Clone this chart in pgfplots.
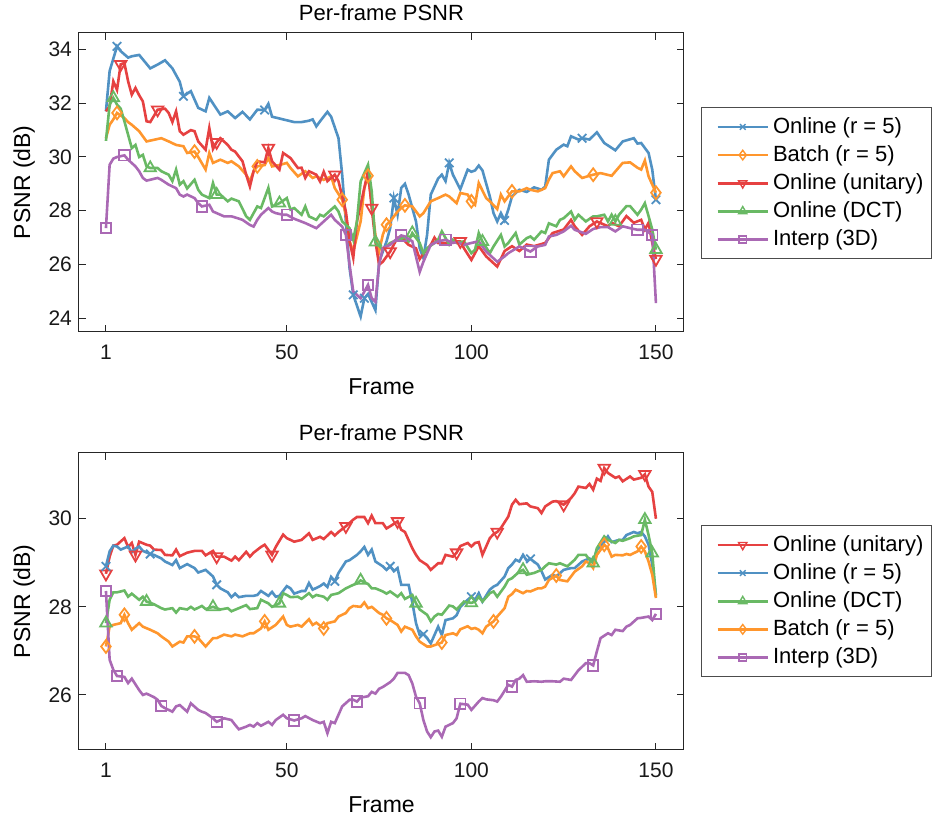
\documentclass[border=0pt]{standalone}
\usepackage{fontspec}
\setmainfont{Liberation Sans}
\usepackage{pgfplots}
\pgfplotsset{compat=1.18}
\definecolor{cblue}{RGB}{80,145,195}
\definecolor{corange}{RGB}{255,150,45}
\definecolor{cred}{RGB}{230,65,65}
\definecolor{cgreen}{RGB}{105,185,100}
\definecolor{cpurple}{RGB}{170,105,180}

\pgfplotsset{
  psnr/.style={
    scale only axis, width=302.5pt, anchor=south west,
    xmin=-6.3, xmax=157.6, xtick={1,50,100,150},
    /pgf/number format/assume math mode=true,
    axis line style={black!85, line width=0.5pt},
    tick style={black!85, line width=0.5pt},
    major tick length=3.5pt, tick align=inside,
    tick label style={font=\fontsize{10.5}{12}\selectfont, text=black!90},
    xticklabel style={yshift=-3pt},
    label style={font=\fontsize{11.5}{13}\selectfont},
    xlabel style={yshift=-2.5pt},
    title style={font=\fontsize{11}{13}\selectfont, yshift=-3.5pt},
    title={Per-frame PSNR}, xlabel={Frame}, ylabel={PSNR (dB)},
    legend cell align=left,
    legend style={anchor=north west, draw=black!70, line width=0.5pt,
      font=\fontsize{11}{13}\selectfont, inner xsep=2pt, inner ysep=3pt,
      row sep=0.6pt},
    legend image code/.code={
      \path (0pt,0pt);
      \draw[#1, mark=none] (5.5pt,0pt) -- (30.5pt,0pt);
      \draw[#1, line width=0.7pt, only marks] plot coordinates {(18pt,0pt)};},
  },
  ln/.style={line width=1.3pt, mark=none, forget plot},
  mk/.style={only marks, line width=0.9pt, forget plot},
  lg/.style={line width=1.3pt},
}

\begin{document}
\begin{tikzpicture}
\path[use as bounding box] (0,0) rectangle (467pt,410pt);

% ---------------- top ----------------
\begin{axis}[psnr, at={(39.5pt,244.2pt)}, height=149.35pt,
  ymin=23.5, ymax=34.62, ytick={24,26,28,30,32,34},
  legend style={at={(1.028,0.752)}}]
% Online (r = 5)
\addplot[cblue, ln] coordinates {(1,31.7)(2,33.2)(4,34.12)(5,33.94)(7,33.7)(8,33.75)(10,33.8)(13,33.3)(15,33.44)(17,33.6)(19,33.3)(21,32.8)(22,32.26)(24,32.45)(26,31.83)(28,31.7)(29,32.2)(32,31.58)(34,31.7)(36,31.45)(38,31.68)(40,31.4)(42,31.76)(44,31.75)(45,31.98)(46,31.5)(49,31.4)(52,31.3)(54,31.3)(56,31.35)(57,31.4)(58,31.14)(59,31.33)(61,31.68)(62,31.5)(64,30.7)(65,29.34)(66,27.6)(67,25.86)(68,24.87)(70,24.06)(71,24.74)(72,24.9)(74,24.3)(75,26.1)(77,26.85)(78,27.35)(79,28.47)(80,27.85)(81,28.85)(82,29.0)(83,28.6)(85,27.6)(86,26.6)(87,26.24)(88,27.1)(89,28.6)(91,29.2)(92,29.34)(93,29.1)(94,29.78)(95,29.34)(97,28.8)(99,29.53)(100,29.45)(101,29.5)(102,29.68)(103,29.5)(105,28.53)(106,27.91)(107,27.6)(108,27.91)(109,27.64)(110,28.04)(111,28.53)(113,28.78)(115,28.7)(117,28.87)(119,28.78)(120,28.9)(121,29.9)(123,30.27)(125,30.46)(126,30.4)(127,30.77)(129,30.65)(130,30.7)(132,30.65)(134,30.92)(136,30.52)(139,30.25)(141,30.58)(144,30.7)(145,30.5)(146,30.52)(148,30.15)(149,29.53)(150,28.41)};
\addplot[cblue, mk, mark=x, mark size=3pt] coordinates {(4,34.12)(22,32.26)(44,31.75)(68,24.87)(71,24.74)(79,28.47)(94,29.78)(109,27.64)(130,30.7)(150,28.41)};
% Batch (r = 5)
\addplot[corange, ln] coordinates {(1,30.7)(2,31.2)(3,31.4)(4,31.64)(6,31.45)(7,31.3)(8,31.2)(10,30.96)(12,30.58)(14,30.64)(16,30.7)(18,30.58)(20,30.45)(22,30.4)(23,30.15)(25,30.2)(26,30.0)(28,29.53)(29,30.15)(30,29.78)(32,29.9)(34,29.78)(35,29.84)(37,29.65)(39,29.34)(40,29.09)(41,29.47)(42,29.65)(44,29.7)(45,29.96)(46,29.65)(48,29.7)(50,29.78)(51,29.59)(53,29.28)(55,29.47)(57,29.22)(58,29.28)(60,29.15)(62,29.28)(63,28.84)(65,28.41)(66,27.85)(67,26.86)(68,26.48)(70,27.6)(71,28.84)(72,29.3)(73,28.3)(74,27.1)(75,26.48)(76,27.1)(77,27.48)(78,27.6)(80,27.97)(81,28.1)(82,28.2)(84,28.16)(86,27.79)(87,27.91)(89,28.35)(91,28.47)(93,28.6)(94,28.53)(96,28.28)(97,28.66)(99,28.6)(100,28.35)(101,28.22)(102,29.03)(104,28.47)(105,28.35)(107,28.06)(108,28.6)(109,28.35)(111,28.72)(113,28.72)(115,28.84)(116,28.78)(118,28.72)(120,28.84)(121,29.16)(122,29.4)(124,29.47)(125,29.28)(127,29.65)(128,29.47)(130,29.22)(131,29.26)(133,29.34)(135,29.4)(138,29.3)(141,29.78)(143,29.8)(145,29.6)(146,29.53)(147,29.87)(148,29.28)(150,28.67)};
\addplot[corange, mk, mark=diamond, mark size=3.2pt] coordinates {(4,31.64)(25,30.2)(42,29.65)(65,28.41)(72,29.3)(77,27.48)(82,28.2)(100,28.35)(111,28.72)(133,29.34)(150,28.67)};
% Online (unitary)
\addplot[cred, ln] coordinates {(1,31.7)(2,31.89)(3,32.82)(4,32.5)(5,33.45)(6,33.5)(7,32.82)(8,32.32)(9,32.57)(10,32.3)(11,32.07)(12,31.33)(13,31.3)(15,31.76)(17,31.8)(18,31.64)(19,31.3)(20,31.7)(21,30.96)(22,30.83)(24,31.0)(25,30.96)(26,30.58)(28,30.27)(29,31.08)(30,30.3)(31,30.55)(32,30.7)(34,30.45)(35,30.27)(36,30.2)(38,29.84)(39,29.34)(40,28.9)(41,29.47)(42,29.84)(44,29.8)(45,30.33)(46,29.84)(48,29.53)(49,30.15)(51,29.96)(53,29.59)(54,29.6)(55,29.22)(56,29.47)(58,29.34)(59,29.09)(60,29.45)(61,29.1)(63,29.34)(64,29.1)(66,27.97)(67,26.86)(68,26.24)(69,27.6)(71,28.85)(72,29.47)(73,28.1)(74,26.86)(75,25.99)(76,26.1)(78,26.48)(80,27.0)(81,27.0)(83,26.73)(85,26.6)(86,26.2)(87,26.4)(89,26.73)(90,27.0)(91,26.8)(94,26.8)(96,26.86)(97,26.86)(98,26.6)(100,26.17)(102,26.68)(104,26.3)(107,25.92)(109,26.5)(111,26.68)(113,26.5)(115,26.74)(117,26.68)(120,26.8)(122,27.17)(125,27.3)(127,27.66)(128,27.42)(130,27.1)(132,27.42)(134,27.6)(137,27.42)(138,27.55)(140,27.42)(142,27.8)(144,27.55)(146,27.66)(147,27.3)(148,27.55)(149,26.8)(150,26.2)};
\addplot[cred, mk, mark=triangle, mark size=3.3pt, mark options={rotate=180}] coordinates {(5,33.45)(15,31.76)(31,30.55)(45,30.33)(63,29.34)(73,28.1)(78,26.48)(97,26.86)(134,27.6)(150,26.2)};
% Online (DCT)
\addplot[cgreen, ln] coordinates {(1,30.6)(2,31.95)(3,32.2)(4,31.95)(5,31.8)(6,31.33)(7,30.83)(8,30.33)(9,30.45)(10,30.0)(11,30.08)(12,29.65)(13,29.59)(15,29.59)(16,29.47)(18,29.34)(19,29.1)(20,29.53)(21,28.97)(22,29.1)(23,28.83)(25,29.15)(26,28.78)(27,28.6)(29,28.47)(30,29.03)(31,28.6)(32,28.6)(34,28.35)(35,28.45)(37,28.35)(39,27.79)(40,27.66)(42,28.16)(43,28.1)(45,28.85)(46,28.16)(48,28.28)(50,28.47)(51,28.04)(52,28.1)(54,27.85)(55,28.16)(56,27.79)(58,27.66)(59,27.85)(60,27.79)(62,28.04)(63,28.16)(64,27.97)(65,27.6)(67,27.35)(68,26.92)(69,27.6)(70,29.09)(72,29.71)(73,28.72)(74,26.83)(76,26.55)(77,26.68)(78,26.8)(80,26.92)(82,27.0)(83,26.86)(84,27.17)(86,26.8)(87,26.42)(88,26.6)(90,26.8)(91,26.92)(92,27.23)(94,26.74)(95,26.92)(96,26.8)(98,26.86)(100,26.42)(101,26.55)(102,27.17)(103,26.85)(105,26.42)(106,26.67)(108,27.1)(109,26.67)(110,26.8)(112,27.17)(113,26.74)(115,26.98)(116,27.04)(117,26.92)(119,27.23)(120,27.17)(121,27.53)(123,27.42)(124,27.66)(125,27.72)(127,27.97)(128,27.66)(129,27.85)(131,27.6)(133,27.79)(134,27.79)(136,27.85)(137,27.6)(138,27.85)(139,27.6)(140,27.85)(142,28.17)(143,28.17)(145,27.85)(146,28.04)(147,28.28)(148,27.8)(149,27.3)(150,26.55)};
\addplot[cgreen, mk, mark=triangle, mark size=3.3pt] coordinates {(3,32.2)(13,29.59)(31,28.6)(48,28.28)(74,26.83)(84,27.17)(103,26.85)(139,27.6)(150,26.55)};
% Interp (3D)
\addplot[cpurple, ln] coordinates {(1,27.35)(2,29.71)(3,29.94)(4,30.0)(6,30.06)(7,29.9)(9,29.65)(10,29.47)(11,29.22)(12,29.12)(15,29.22)(16,29.15)(18,28.97)(20,28.84)(21,28.6)(22,28.53)(23,28.6)(25,28.47)(26,28.28)(27,28.16)(29,28.22)(30,27.97)(33,27.79)(35,27.79)(36,27.75)(38,27.66)(40,27.47)(41,27.41)(42,27.66)(43,27.85)(45,28.1)(46,27.97)(47,27.91)(49,27.85)(50,27.85)(52,27.7)(55,27.54)(58,27.35)(60,27.6)(62,27.85)(63,27.66)(65,27.41)(66,27.1)(67,25.99)(68,24.99)(70,24.74)(71,24.99)(72,25.24)(73,24.74)(74,24.61)(75,25.99)(76,26.61)(78,26.73)(79,26.86)(81,27.08)(82,27.04)(84,26.86)(86,25.72)(87,26.1)(89,26.73)(91,26.86)(93,26.92)(95,26.8)(96,26.83)(98,26.73)(100,26.8)(102,26.86)(104,26.48)(107,26.1)(109,26.3)(110,26.42)(113,26.67)(116,26.48)(118,26.67)(120,26.73)(121,27.04)(123,27.1)(125,27.23)(127,27.44)(128,27.29)(131,27.14)(133,27.32)(135,27.39)(137,27.39)(139,27.23)(141,27.42)(143,27.35)(145,27.29)(147,27.29)(149,27.1)(150,24.56)};
\addplot[cpurple, mk, mark=square, mark size=2.6pt] coordinates {(1,27.35)(6,30.06)(27,28.16)(50,27.85)(66,27.1)(72,25.24)(81,27.08)(93,26.92)(116,26.48)(145,27.29)(149,27.1)};

\addlegendimage{cblue, lg, mark=x, mark size=2pt}
\addlegendentry{Online (r = 5)}
\addlegendimage{corange, lg, mark=diamond, mark size=2.4pt}
\addlegendentry{Batch (r = 5)}
\addlegendimage{cred, lg, mark=triangle, mark size=2.4pt, mark options={rotate=180}}
\addlegendentry{Online (unitary)}
\addlegendimage{cgreen, lg, mark=triangle, mark size=2.4pt}
\addlegendentry{Online (DCT)}
\addlegendimage{cpurple, lg, mark=square, mark size=1.8pt}
\addlegendentry{Interp (3D)}
\end{axis}

% ---------------- bottom ----------------
\begin{axis}[psnr, at={(39.5pt,35pt)}, height=148.65pt,
  ymin=24.75, ymax=31.5, ytick={26,28,30},
  legend style={at={(1.028,0.757)}}]
% Online (unitary)
\addplot[cred, ln] coordinates {(1,28.75)(2,29.14)(3,29.39)(4,29.41)(6,29.56)(7,29.36)(8,29.45)(9,29.18)(10,29.48)(12,29.41)(13,29.39)(14,29.3)(16,29.29)(17,29.18)(19,29.17)(20,29.3)(21,29.15)(23,29.23)(25,29.27)(27,29.27)(28,29.17)(30,29.27)(31,29.14)(33,29.14)(35,29.05)(36,29.14)(37,29.06)(39,29.25)(40,29.14)(41,29.23)(43,29.36)(44,29.41)(46,29.18)(47,29.36)(49,29.64)(50,29.56)(52,29.48)(54,29.52)(56,29.67)(57,29.52)(59,29.59)(60,29.54)(62,29.7)(63,29.62)(64,29.7)(66,29.83)(68,29.98)(69,30.04)(71,30.04)(72,29.9)(73,30.07)(74,29.9)(76,29.9)(77,29.78)(78,29.83)(80,29.94)(81,29.75)(82,29.7)(84,29.33)(85,29.18)(86,29.06)(88,28.95)(89,28.84)(91,28.99)(92,28.99)(93,29.18)(95,29.14)(96,29.23)(97,29.38)(99,29.45)(100,29.37)(101,29.45)(102,29.47)(103,29.18)(105,29.56)(106,29.65)(107,29.7)(108,29.79)(110,30.05)(111,30.32)(112,30.43)(113,30.33)(115,30.35)(116,30.28)(118,30.24)(119,30.13)(120,30.28)(122,30.39)(123,30.4)(125,30.32)(127,30.47)(128,30.58)(129,30.73)(131,30.7)(132,30.79)(133,30.66)(134,30.91)(135,30.86)(136,31.15)(137,31.04)(139,30.93)(140,30.96)(141,30.85)(143,30.96)(144,30.89)(146,30.93)(147,31.01)(148,30.73)(149,30.61)(150,30.0)};
\addplot[cred, mk, mark=triangle, mark size=3.3pt, mark options={rotate=180}] coordinates {(1,28.75)(9,29.18)(31,29.14)(46,29.18)(66,29.83)(80,29.94)(96,29.23)(107,29.7)(125,30.32)(136,31.15)(147,31.01)};
% Online (r = 5)
\addplot[cblue, ln] coordinates {(1,28.92)(2,29.26)(3,29.39)(4,29.37)(5,29.3)(7,29.37)(8,29.24)(9,29.32)(10,29.37)(11,29.27)(13,29.2)(14,29.18)(16,29.1)(17,29.03)(19,28.95)(20,29.06)(21,28.88)(23,28.97)(25,28.88)(26,28.78)(28,28.84)(30,28.69)(31,28.5)(32,28.42)(34,28.33)(35,28.22)(36,28.3)(37,28.22)(39,28.25)(41,28.25)(42,28.27)(43,28.36)(45,28.25)(46,28.34)(47,28.23)(48,28.25)(50,28.47)(51,28.42)(52,28.3)(54,28.36)(55,28.36)(56,28.54)(57,28.39)(59,28.47)(60,28.53)(61,28.45)(62,28.68)(63,28.58)(64,28.77)(66,29.03)(67,29.06)(69,29.18)(70,29.26)(71,29.36)(72,29.18)(73,29.3)(74,29.03)(76,28.92)(77,28.84)(78,28.92)(79,28.81)(80,28.88)(81,28.5)(83,28.5)(84,28.1)(85,27.63)(86,27.36)(87,27.38)(88,27.29)(89,27.17)(90,27.36)(91,27.55)(92,27.36)(93,27.7)(95,27.74)(96,27.81)(97,28.0)(99,28.16)(100,28.23)(101,28.16)(102,28.31)(103,28.12)(105,28.39)(106,28.46)(107,28.5)(109,28.69)(110,28.88)(111,28.96)(112,29.07)(113,29.03)(114,29.18)(115,29.05)(116,29.09)(118,28.96)(119,28.81)(120,28.62)(122,28.73)(123,28.69)(125,28.84)(127,28.88)(128,28.88)(130,29.03)(132,29.1)(133,29.03)(134,29.3)(136,29.47)(137,29.6)(138,29.47)(140,29.52)(141,29.52)(142,29.63)(144,29.7)(145,29.67)(146,29.7)(147,29.6)(148,29.41)(149,28.96)(150,28.27)};
\addplot[cblue, mk, mark=x, mark size=3pt] coordinates {(1,28.92)(13,29.2)(31,28.5)(63,28.58)(78,28.92)(87,27.38)(100,28.23)(116,29.09)};
% Online (DCT)
\addplot[cgreen, ln] coordinates {(1,27.63)(2,28.16)(3,28.33)(4,28.33)(6,28.37)(7,28.23)(8,28.3)(10,28.16)(11,28.23)(12,28.12)(14,28.06)(16,27.97)(17,27.94)(19,27.97)(20,27.87)(21,27.97)(23,27.94)(24,28.0)(25,27.94)(27,28.02)(28,27.95)(30,28.0)(32,27.94)(34,27.97)(35,27.9)(37,27.97)(39,28.04)(40,27.95)(42,27.97)(43,28.16)(45,28.08)(46,28.0)(48,28.08)(49,28.31)(50,28.27)(51,28.22)(53,28.23)(54,28.18)(56,28.31)(57,28.22)(58,28.27)(60,28.23)(61,28.16)(62,28.27)(64,28.31)(66,28.42)(68,28.5)(69,28.53)(70,28.6)(72,28.52)(73,28.42)(74,28.42)(76,28.35)(77,28.3)(78,28.35)(80,28.23)(81,28.31)(82,28.18)(84,28.27)(85,28.08)(86,27.94)(88,27.82)(89,27.67)(90,27.78)(91,27.84)(92,27.82)(94,28.03)(95,28.01)(96,27.94)(98,28.12)(100,28.09)(101,28.12)(102,28.23)(103,28.12)(105,28.31)(106,28.35)(107,28.23)(109,28.46)(110,28.61)(111,28.65)(113,28.8)(114,28.84)(115,28.73)(117,28.77)(119,28.84)(120,28.92)(121,28.99)(123,28.96)(124,28.99)(126,28.92)(128,29.07)(129,29.18)(131,29.18)(132,29.07)(133,28.99)(134,29.33)(136,29.6)(137,29.52)(139,29.45)(140,29.52)(141,29.5)(143,29.56)(144,29.6)(146,29.63)(147,29.98)(148,29.63)(149,29.22)(150,28.23)};
\addplot[cgreen, mk, mark=triangle, mark size=3.3pt] coordinates {(1,27.63)(12,28.12)(30,28.0)(48,28.08)(70,28.6)(85,28.08)(100,28.09)(114,28.84)(133,28.99)(147,29.98)(149,29.22)};
% Batch (r = 5)
\addplot[corange, ln] coordinates {(1,27.1)(2,27.55)(3,27.59)(5,27.63)(6,27.82)(7,27.63)(8,27.48)(10,27.63)(11,27.55)(13,27.48)(15,27.4)(16,27.33)(18,27.21)(19,27.1)(21,27.21)(22,27.19)(23,27.33)(25,27.33)(26,27.29)(28,27.1)(30,27.29)(31,27.29)(33,27.37)(35,27.33)(36,27.37)(38,27.33)(40,27.4)(41,27.4)(43,27.51)(44,27.67)(45,27.48)(47,27.59)(49,27.78)(50,27.59)(51,27.55)(53,27.59)(54,27.55)(56,27.72)(57,27.59)(58,27.64)(60,27.51)(61,27.63)(63,27.67)(64,27.78)(66,27.86)(67,27.97)(68,28.02)(70,28.0)(71,28.1)(72,27.97)(73,28.0)(75,27.86)(76,27.82)(77,27.74)(78,27.7)(80,27.59)(81,27.44)(82,27.55)(84,27.48)(85,27.33)(86,27.21)(88,27.1)(89,27.1)(91,27.16)(92,27.19)(93,27.36)(95,27.4)(96,27.36)(97,27.49)(99,27.56)(100,27.5)(101,27.52)(102,27.48)(103,27.4)(104,27.55)(106,27.67)(107,27.78)(109,27.97)(110,28.23)(111,28.29)(112,28.39)(114,28.31)(115,28.36)(116,28.35)(118,28.42)(119,28.42)(120,28.46)(121,28.61)(123,28.71)(124,28.61)(126,28.58)(127,28.69)(128,28.8)(130,28.92)(131,29.03)(132,28.99)(133,28.88)(134,29.18)(136,29.41)(137,29.33)(138,29.14)(139,29.18)(141,29.17)(142,29.2)(143,29.18)(145,29.26)(146,29.37)(147,29.26)(148,29.03)(149,28.73)(150,28.2)};
\addplot[corange, mk, mark=diamond, mark size=3.2pt] coordinates {(1,27.1)(6,27.82)(25,27.33)(44,27.67)(60,27.51)(77,27.74)(92,27.19)(106,27.67)(123,28.71)(136,29.41)(146,29.37)};
% Interp (3D)
\addplot[cpurple, ln] coordinates {(1,28.36)(2,26.8)(3,26.57)(4,26.43)(6,26.41)(7,26.27)(8,26.37)(10,26.11)(11,26.0)(12,26.03)(14,25.95)(15,25.89)(16,25.75)(17,25.7)(19,25.62)(20,25.74)(21,25.77)(23,25.62)(24,25.81)(26,25.66)(27,25.62)(28,25.59)(30,25.47)(31,25.39)(33,25.47)(35,25.43)(36,25.32)(37,25.22)(39,25.28)(40,25.32)(41,25.28)(42,25.36)(43,25.3)(45,25.39)(46,25.32)(47,25.43)(49,25.55)(50,25.47)(52,25.42)(54,25.47)(55,25.52)(57,25.43)(59,25.36)(60,25.39)(61,25.13)(62,25.39)(63,25.36)(64,25.55)(65,25.74)(67,25.89)(68,25.89)(69,25.85)(70,25.94)(72,25.97)(73,26.07)(74,26.03)(75,26.14)(76,26.18)(78,26.29)(79,26.37)(80,26.5)(82,26.5)(83,26.45)(84,26.26)(85,25.96)(86,25.81)(87,25.43)(88,25.17)(89,25.04)(90,25.17)(91,25.19)(92,25.05)(93,25.28)(95,25.36)(96,25.47)(97,25.8)(99,25.78)(100,25.66)(102,25.85)(103,25.93)(104,25.9)(106,25.88)(107,25.85)(108,25.96)(110,26.23)(111,26.19)(112,26.34)(113,26.37)(114,26.45)(115,26.3)(117,26.31)(119,26.3)(120,26.31)(122,26.31)(124,26.3)(125,26.37)(127,26.34)(128,26.45)(129,26.56)(131,26.72)(132,26.72)(133,26.67)(134,26.99)(135,27.29)(137,27.4)(138,27.36)(139,27.48)(141,27.45)(142,27.55)(143,27.59)(145,27.74)(146,27.75)(148,27.78)(149,27.7)(150,27.84)};
\addplot[cpurple, mk, mark=square, mark size=2.6pt] coordinates {(1,28.36)(4,26.43)(16,25.75)(31,25.39)(52,25.42)(69,25.85)(86,25.81)(97,25.8)(111,26.19)(133,26.67)(150,27.84)};

\addlegendimage{cred, lg, mark=triangle, mark size=2.4pt, mark options={rotate=180}}
\addlegendentry{Online (unitary)}
\addlegendimage{cblue, lg, mark=x, mark size=2pt}
\addlegendentry{Online (r = 5)}
\addlegendimage{cgreen, lg, mark=triangle, mark size=2.4pt}
\addlegendentry{Online (DCT)}
\addlegendimage{corange, lg, mark=diamond, mark size=2.4pt}
\addlegendentry{Batch (r = 5)}
\addlegendimage{cpurple, lg, mark=square, mark size=1.8pt}
\addlegendentry{Interp (3D)}
\end{axis}
\end{tikzpicture}
\end{document}
